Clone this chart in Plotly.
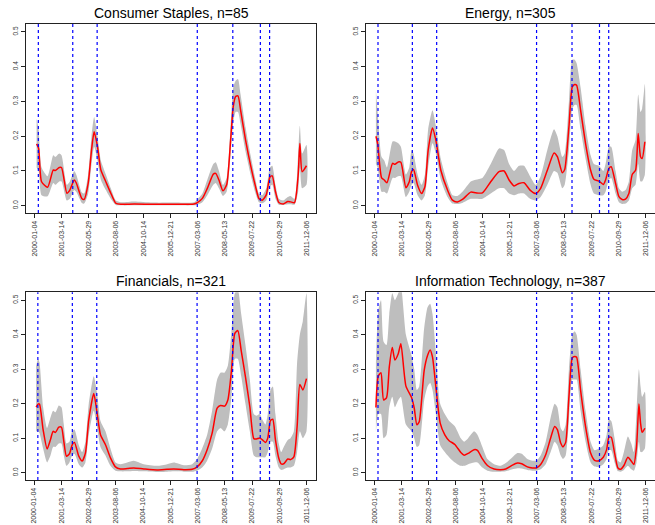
import plotly.graph_objects as go

# ---------------- data ----------------
tick_pos = [0, 300, 600, 900, 1200, 1500, 1800, 2100, 2400, 2700, 3000]
tick_labels = ["2000-01-04", "2001-03-14", "2002-05-29", "2003-08-06", "2004-10-14",
               "2005-12-21", "2007-03-06", "2008-05-13", "2009-07-22", "2010-09-29", "2011-12-06"]
event_idx = [41, 421, 690, 1795, 2187, 2491, 2593]

titles = ["Consumer Staples, n=85", "Energy, n=305", "Financials, n=321", "Information Technology, n=387"]

cs_idx = [22, 44, 77, 143, 206, 228, 272, 297, 356, 389, 437, 459, 521, 547, 591, 628, 657, 694, 731, 786,
          841, 896, 951, 1100, 1300, 1500, 1759, 1796, 1851, 1906, 1972, 1998, 2034, 2078, 2119, 2163, 2192,
          2218, 2244, 2273, 2328, 2383, 2438, 2475, 2512, 2556, 2596, 2622, 2658, 2695, 2743, 2794, 2824,
          2868, 2908, 2927, 2952, 3000]
cs_mean = [0.178, 0.165, 0.069, 0.053, 0.103, 0.101, 0.110, 0.110, 0.036, 0.045, 0.074, 0.066, 0.021, 0.018,
           0.064, 0.160, 0.213, 0.170, 0.103, 0.069, 0.036, 0.007, 0.004, 0.005, 0.004, 0.004, 0.005, 0.009,
           0.021, 0.050, 0.091, 0.093, 0.074, 0.043, 0.060, 0.189, 0.285, 0.314, 0.316, 0.275, 0.189, 0.117,
           0.055, 0.021, 0.016, 0.031, 0.082, 0.086, 0.040, 0.009, 0.005, 0.012, 0.011, 0.009, 0.088, 0.179,
           0.098, 0.115]
cs_lo = [0.11, 0.10, 0.03, 0.027, 0.065, 0.06, 0.07, 0.07, 0.015, 0.02, 0.045, 0.04, 0.008, 0.006, 0.035,
         0.12, 0.17, 0.13, 0.075, 0.045, 0.02, 0.002, 0.001, 0.001, 0.001, 0.001, 0.001, 0.003, 0.01, 0.03,
         0.06, 0.065, 0.05, 0.028, 0.04, 0.15, 0.24, 0.27, 0.27, 0.235, 0.155, 0.09, 0.035, 0.01, 0.007,
         0.015, 0.055, 0.06, 0.02, 0.003, 0.002, 0.004, 0.004, 0.003, 0.04, 0.11, 0.05, 0.06]
cs_hi = [0.25, 0.22, 0.11, 0.085, 0.145, 0.14, 0.15, 0.145, 0.06, 0.07, 0.10, 0.09, 0.038, 0.035, 0.09,
         0.20, 0.255, 0.20, 0.13, 0.09, 0.05, 0.015, 0.01, 0.012, 0.009, 0.009, 0.01, 0.018, 0.035, 0.075,
         0.12, 0.125, 0.10, 0.06, 0.08, 0.23, 0.34, 0.36, 0.365, 0.32, 0.225, 0.145, 0.075, 0.035, 0.03,
         0.05, 0.11, 0.115, 0.06, 0.02, 0.015, 0.025, 0.028, 0.02, 0.15, 0.23, 0.15, 0.175]

en_idx = [18, 37, 81, 110, 140, 202, 228, 265, 294, 350, 387, 412, 434, 479, 523, 560, 596, 644, 681, 736,
          810, 865, 920, 975, 1067, 1123, 1196, 1288, 1380, 1436, 1491, 1546, 1601, 1656, 1723, 1785, 1840,
          1914, 1988, 2025, 2080, 2106, 2153, 2190, 2216, 2238, 2282, 2337, 2393, 2429, 2485, 2533, 2558,
          2595, 2621, 2669, 2706, 2742, 2779, 2816, 2853, 2890, 2919, 2945, 2963, 2993]
en_mean = [0.200, 0.179, 0.080, 0.074, 0.066, 0.122, 0.119, 0.126, 0.125, 0.052, 0.069, 0.098, 0.104, 0.059,
           0.035, 0.055, 0.160, 0.224, 0.189, 0.102, 0.045, 0.016, 0.011, 0.018, 0.039, 0.037, 0.037, 0.069,
           0.098, 0.100, 0.074, 0.057, 0.064, 0.066, 0.045, 0.035, 0.050, 0.102, 0.152, 0.141, 0.095, 0.104,
           0.227, 0.342, 0.349, 0.347, 0.275, 0.179, 0.102, 0.076, 0.071, 0.061, 0.074, 0.107, 0.112, 0.064,
           0.026, 0.018, 0.019, 0.035, 0.090, 0.102, 0.208, 0.141, 0.136, 0.184]
en_lo = [0.12, 0.11, 0.04, 0.04, 0.035, 0.08, 0.08, 0.085, 0.085, 0.025, 0.04, 0.06, 0.065, 0.03, 0.015,
         0.03, 0.11, 0.18, 0.15, 0.075, 0.025, 0.006, 0.005, 0.008, 0.02, 0.02, 0.02, 0.035, 0.05, 0.05,
         0.035, 0.03, 0.035, 0.035, 0.02, 0.015, 0.025, 0.06, 0.10, 0.095, 0.05, 0.06, 0.16, 0.28, 0.29,
         0.29, 0.22, 0.135, 0.06, 0.035, 0.03, 0.03, 0.04, 0.075, 0.08, 0.035, 0.01, 0.005, 0.006, 0.015,
         0.05, 0.06, 0.12, 0.07, 0.07, 0.09]
en_hi = [0.33, 0.27, 0.14, 0.13, 0.11, 0.185, 0.185, 0.18, 0.17, 0.09, 0.11, 0.16, 0.15, 0.09, 0.06, 0.09,
         0.22, 0.275, 0.23, 0.135, 0.065, 0.03, 0.028, 0.04, 0.07, 0.075, 0.08, 0.12, 0.165, 0.16, 0.12,
         0.10, 0.115, 0.115, 0.085, 0.06, 0.085, 0.16, 0.22, 0.20, 0.14, 0.15, 0.30, 0.42, 0.42, 0.41, 0.34,
         0.23, 0.145, 0.12, 0.115, 0.10, 0.12, 0.17, 0.17, 0.10, 0.05, 0.04, 0.045, 0.07, 0.16, 0.19, 0.32,
         0.27, 0.28, 0.35]

fin_idx = [22, 44, 59, 99, 143, 180, 209, 235, 272, 301, 327, 356, 389, 419, 444, 492, 529, 565, 602, 657,
           694, 731, 786, 841, 896, 951, 1025, 1098, 1208, 1355, 1465, 1539, 1649, 1741, 1796, 1851, 1906,
           1961, 2016, 2053, 2097, 2134, 2174, 2211, 2244, 2281, 2328, 2376, 2420, 2449, 2486, 2512, 2548,
           2574, 2603, 2629, 2658, 2695, 2721, 2750, 2794, 2824, 2861, 2897, 2927, 2960, 3000]
fin_mean = [0.190, 0.199, 0.199, 0.125, 0.069, 0.096, 0.120, 0.117, 0.132, 0.132, 0.091, 0.048, 0.055, 0.081,
            0.088, 0.048, 0.034, 0.057, 0.153, 0.230, 0.172, 0.110, 0.081, 0.043, 0.017, 0.011, 0.012, 0.014,
            0.011, 0.008, 0.010, 0.011, 0.009, 0.010, 0.017, 0.034, 0.067, 0.115, 0.187, 0.195, 0.193, 0.211,
            0.297, 0.404, 0.412, 0.354, 0.278, 0.192, 0.099, 0.098, 0.101, 0.096, 0.088, 0.101, 0.151, 0.155,
            0.096, 0.042, 0.026, 0.026, 0.040, 0.038, 0.046, 0.134, 0.256, 0.240, 0.273]
fin_lo = [0.12, 0.12, 0.115, 0.07, 0.03, 0.05, 0.075, 0.075, 0.085, 0.085, 0.05, 0.02, 0.03, 0.05, 0.055,
          0.025, 0.015, 0.03, 0.11, 0.18, 0.13, 0.075, 0.05, 0.02, 0.006, 0.004, 0.004, 0.005, 0.004, 0.002,
          0.003, 0.004, 0.003, 0.003, 0.006, 0.015, 0.035, 0.07, 0.12, 0.13, 0.12, 0.14, 0.22, 0.33, 0.33,
          0.28, 0.20, 0.12, 0.05, 0.045, 0.045, 0.045, 0.045, 0.06, 0.09, 0.09, 0.05, 0.015, 0.008, 0.01,
          0.015, 0.015, 0.02, 0.06, 0.12, 0.10, 0.12]
fin_hi = [0.31, 0.33, 0.32, 0.19, 0.13, 0.16, 0.18, 0.175, 0.195, 0.19, 0.14, 0.085, 0.09, 0.12, 0.125,
          0.08, 0.06, 0.09, 0.20, 0.28, 0.23, 0.15, 0.12, 0.07, 0.03, 0.025, 0.03, 0.035, 0.025, 0.02, 0.025,
          0.03, 0.022, 0.025, 0.04, 0.07, 0.11, 0.18, 0.27, 0.29, 0.29, 0.31, 0.41, 0.52, 0.53, 0.46, 0.37,
          0.27, 0.17, 0.165, 0.17, 0.155, 0.14, 0.17, 0.24, 0.25, 0.17, 0.085, 0.06, 0.075, 0.095, 0.10,
          0.12, 0.32, 0.40, 0.44, 0.52]

it_idx = [18, 44, 74, 103, 136, 166, 199, 228, 265, 294, 350, 412, 442, 471, 497, 552, 589, 618, 644, 681,
          729, 780, 828, 891, 957, 994, 1038, 1104, 1141, 1196, 1251, 1325, 1399, 1454, 1528, 1583, 1631,
          1693, 1748, 1793, 1840, 1896, 1951, 1995, 2025, 2062, 2087, 2117, 2153, 2190, 2216, 2238, 2282,
          2337, 2393, 2437, 2485, 2533, 2570, 2595, 2621, 2658, 2695, 2724, 2761, 2805, 2842, 2871, 2901,
          2927, 2945, 2963, 2993]
it_mean = [0.189, 0.280, 0.290, 0.211, 0.218, 0.307, 0.363, 0.327, 0.345, 0.374, 0.251, 0.218, 0.187, 0.139,
           0.148, 0.297, 0.340, 0.356, 0.335, 0.249, 0.144, 0.110, 0.093, 0.082, 0.059, 0.051, 0.056, 0.067,
           0.065, 0.040, 0.021, 0.011, 0.009, 0.011, 0.022, 0.028, 0.026, 0.017, 0.014, 0.014, 0.024, 0.052,
           0.101, 0.134, 0.125, 0.086, 0.075, 0.088, 0.220, 0.333, 0.337, 0.335, 0.239, 0.134, 0.057, 0.036,
           0.035, 0.045, 0.067, 0.103, 0.103, 0.057, 0.014, 0.010, 0.021, 0.045, 0.034, 0.024, 0.077, 0.199,
           0.144, 0.117, 0.129]
it_lo = [0.12, 0.17, 0.17, 0.10, 0.11, 0.19, 0.22, 0.19, 0.21, 0.22, 0.14, 0.12, 0.10, 0.075, 0.08, 0.21,
         0.25, 0.26, 0.24, 0.17, 0.08, 0.06, 0.045, 0.03, 0.02, 0.02, 0.025, 0.03, 0.03, 0.015, 0.006, 0.003,
         0.003, 0.004, 0.01, 0.013, 0.012, 0.008, 0.006, 0.006, 0.01, 0.025, 0.06, 0.09, 0.08, 0.05, 0.04,
         0.05, 0.15, 0.27, 0.27, 0.27, 0.18, 0.09, 0.03, 0.018, 0.017, 0.025, 0.04, 0.065, 0.065, 0.03,
         0.004, 0.003, 0.008, 0.02, 0.01, 0.006, 0.03, 0.09, 0.06, 0.06, 0.07]
it_hi = [0.32, 0.47, 0.50, 0.38, 0.37, 0.46, 0.52, 0.50, 0.52, 0.54, 0.40, 0.34, 0.30, 0.24, 0.25, 0.42,
         0.48, 0.49, 0.46, 0.35, 0.20, 0.17, 0.15, 0.135, 0.10, 0.09, 0.10, 0.12, 0.11, 0.075, 0.04, 0.025,
         0.02, 0.028, 0.045, 0.057, 0.055, 0.04, 0.035, 0.035, 0.05, 0.09, 0.16, 0.20, 0.19, 0.13, 0.12,
         0.14, 0.30, 0.40, 0.41, 0.40, 0.30, 0.18, 0.09, 0.065, 0.07, 0.08, 0.11, 0.155, 0.15, 0.10, 0.035,
         0.03, 0.06, 0.105, 0.085, 0.06, 0.18, 0.30, 0.25, 0.22, 0.235]

panels = [
    (cs_idx, cs_mean, cs_lo, cs_hi),
    (en_idx, en_mean, en_lo, en_hi),
    (fin_idx, fin_mean, fin_lo, fin_hi),
    (it_idx, it_mean, it_lo, it_hi),
]

# ---------------- layout ----------------
W, H = 655, 525
boxes = [  # left, top, right, bottom in px
    (26, 24, 316, 213),
    (365.7, 24, 655.5, 213),
    (25.5, 292.3, 316, 480),
    (365.7, 292.3, 655.5, 480),
]
title_y = [12.5, 12.5, 280.5, 280.5]

fig = go.Figure()
font_fam = "Liberation Sans, Arial, sans-serif"

for i, ((xs, m, lo, hi), (l, t, r, b)) in enumerate(zip(panels, boxes)):
    n = i + 1
    xa = "x" if n == 1 else f"x{n}"
    ya = "y" if n == 1 else f"y{n}"
    fig.add_trace(go.Scatter(
        x=list(xs) + list(xs)[::-1], y=list(hi) + list(lo)[::-1],
        fill="toself", fillcolor="#BEBEBE", line=dict(width=0, color="#BEBEBE", shape="spline", smoothing=0.6),
        mode="lines", hoverinfo="skip", showlegend=False, xaxis=xa, yaxis=ya))
    fig.add_trace(go.Scatter(
        x=xs, y=m, mode="lines", line=dict(color="#FF0000", width=1.5, shape="spline", smoothing=0.6),
        showlegend=False, xaxis=xa, yaxis=ya))
    for e in event_idx:
        fig.add_shape(type="line", xref=xa, yref=f"{ya} domain", x0=e, x1=e, y0=0, y1=1,
                      line=dict(color="#0000FF", width=1.2, dash="dot"))
    axis_common = dict(showline=True, linecolor="#222", linewidth=1, mirror=True, ticks="outside",
                       ticklen=4, tickcolor="#222", showgrid=False, zeroline=False, automargin=False)
    fig.layout[xa.replace("x", "xaxis")] = dict(
        domain=[l / W, min(r / W, 1.0)], anchor=ya, range=[-95, 3105],
        tickmode="array", tickvals=tick_pos, ticktext=tick_labels, tickangle=-90,
        tickfont=dict(size=7, color="#333", family=font_fam), **axis_common)
    fig.layout[ya.replace("y", "yaxis")] = dict(
        domain=[1 - b / H, 1 - t / H], anchor=xa, range=[-0.021, 0.523],
        tickmode="array", tickvals=[0, 0.1, 0.2, 0.3, 0.4, 0.5],
        ticktext=["0.0", "0.1", "0.2", "0.3", "0.4", "0.5"], tickangle=-90,
        tickfont=dict(size=6.5, color="#333", family=font_fam), **axis_common)
    fig.add_annotation(text=titles[i], xref="paper", yref="paper", x=(l + r) / 2 / W, y=1 - title_y[i] / H,
                       showarrow=False, xanchor="center", yanchor="middle",
                       font=dict(size=14, color="#000", family=font_fam))

fig.update_layout(width=W, height=H, margin=dict(l=0, r=0, t=0, b=0),
                  paper_bgcolor="white", plot_bgcolor="white", hovermode=False)

fig.write_html("out.html", config={"displayModeBar": False, "staticPlot": True},
               post_script="document.body.style.margin='0';document.body.style.padding='0';"
                           "document.body.style.overflow='hidden';")
